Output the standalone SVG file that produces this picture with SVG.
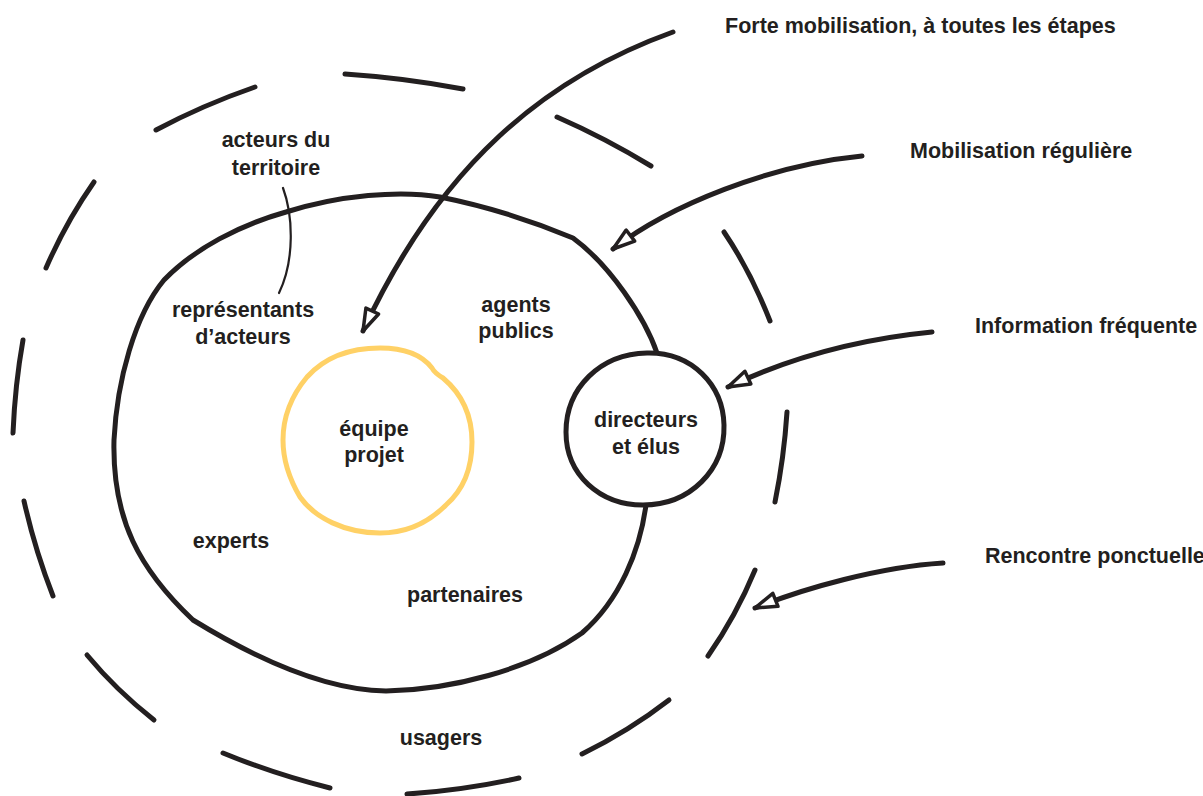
<svg xmlns="http://www.w3.org/2000/svg" width="1203" height="796" viewBox="0 0 1203 796">
  <style>
    .ink { fill: none; stroke: #231F20; stroke-width: 5; stroke-linecap: round; stroke-linejoin: round; }
    .thin { fill: none; stroke: #231F20; stroke-width: 2.2; stroke-linecap: round; }
    .yellow { fill: none; stroke: #FFD166; stroke-width: 5; stroke-linejoin: round; }
    .circ { fill: #FFFFFF; stroke: #231F20; stroke-width: 5; stroke-linejoin: round; }
    text { font-family: "Liberation Sans", Arial, sans-serif; font-weight: bold; font-size: 21.5px; fill: #231F20; }
    .c { text-anchor: middle; }
  </style>
  <defs>
    <marker id="head" markerUnits="userSpaceOnUse" viewBox="-28 -12 32 24" markerWidth="32" markerHeight="24" refX="0" refY="0" orient="auto">
      <path d="M0,0 L-22,-7 L-22,7 Z" fill="#FFFFFF" stroke="#231F20" stroke-width="3.5" stroke-linejoin="round"/>
    </marker>
  </defs>
  <rect width="1203" height="796" fill="#FFFFFF"/>

  <g id="outer-ring">
    <path class="ink" d="M345,74 Q405,78 463,89"/>
    <path class="ink" d="M557,117 Q605,138 651,166"/>
    <path class="ink" d="M255,87 Q203,105 156,130"/>
    <path class="ink" d="M94,182 Q66,222 46,268"/>
    <path class="ink" d="M23,340 Q15,385 13,433"/>
    <path class="ink" d="M24,501 Q35,550 53,596"/>
    <path class="ink" d="M87,655 Q116,690 154,720"/>
    <path class="ink" d="M223,753 Q274,774 330,788"/>
    <path class="ink" d="M407,794 Q465,790 519,778"/>
    <path class="ink" d="M582,754 Q629,731 669,700"/>
    <path class="ink" d="M708,656 Q736,616 755,570"/>
    <path class="ink" d="M775,502 Q784,458 787,412"/>
    <path class="ink" d="M724,232 Q751,272 770,321"/>
    <text class="c" x="276" y="147">acteurs du</text>
    <text class="c" x="276" y="175">territoire</text>
    <text class="c" x="441" y="745">usagers</text>
  </g>

  <g id="middle-ring">
    <path class="ink" d="M657,353 C645,318 610,265 573,238 C530,220 480,205 440,197 C400,190 340,195 286,212 C240,225 195,248 164,280 C135,315 117,380 114,440 C112,520 140,570 193,620 C250,655 320,690 386,691 C450,690 530,670 582,633 C620,600 640,550 646,505"/>
    <text class="c" x="243" y="317">représentants</text>
    <text class="c" x="243" y="344">d’acteurs</text>
    <text class="c" x="516" y="312">agents</text>
    <text class="c" x="516" y="338">publics</text>
    <text class="c" x="231" y="548">experts</text>
    <text class="c" x="465" y="602">partenaires</text>
  </g>

  <g id="equipe-projet">
    <path class="yellow" d="M380,348 C405,348 422,355 432,368 C434,372 438,375 443,378 C462,394 472,415 472,442 C472,470 463,490 446,505 C428,523 405,533 380,533 C345,533 315,518 300,497 C290,480 283,460 283,440 C283,415 292,395 307,377 C325,357 350,348 380,348 Z"/>
    <text class="c" x="374" y="436">équipe</text>
    <text class="c" x="374" y="462">projet</text>
  </g>

  <g id="directeurs-elus">
    <path class="circ" d="M647,353 C692,352 723,385 724,425 C725,470 690,505 643,505 C600,505 566,475 566,432 C566,388 600,354 647,353 Z"/>
    <text class="c" x="646" y="427">directeurs</text>
    <text class="c" x="646" y="454">et élus</text>
  </g>

  <g id="connectors">
    <path class="ink" marker-end="url(#head)" d="M673,32 C545,78 440,165 363,331"/>
    <path class="ink" marker-end="url(#head)" d="M862,156 C770,165 670,205 613,249"/>
    <path class="ink" marker-end="url(#head)" d="M932,332 C850,340 785,360 728,387"/>
    <path class="ink" marker-end="url(#head)" d="M943,563 C880,567 805,588 755,608"/>
    <path class="thin" d="M283,188 C293,215 295,260 279,293"/>
  </g>

  <g id="label-forte">
    <text x="725" y="33">Forte mobilisation, à toutes les étapes</text>
  </g>
  <g id="label-reguliere">
    <text x="910" y="158">Mobilisation régulière</text>
  </g>
  <g id="label-frequente">
    <text x="975" y="333">Information fréquente</text>
  </g>
  <g id="label-ponctuelle">
    <text x="985" y="563">Rencontre ponctuelle</text>
  </g>
</svg>
